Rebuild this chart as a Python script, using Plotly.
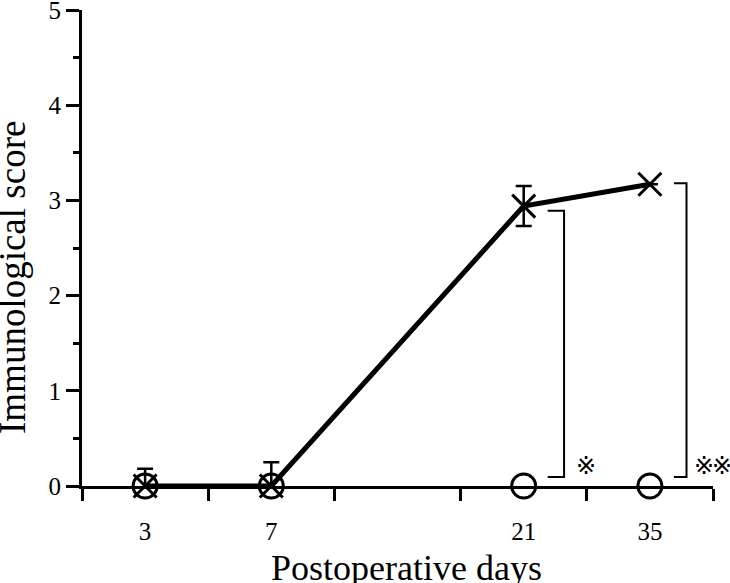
import plotly.graph_objects as go

# ---- data ----
day_labels = ["3", "7", "21", "35"]
day_slots = [0, 1, 3, 4]          # ordinal slot of each day on the axis (slot 2 empty)
score_x_group = [0.0, 0.0, 2.94, 3.17]
err_x_group = [0.18, 0.25, 0.21, 0.0]
score_o_group = [0.0, 0.0, 0.0, 0.0]
y_ticks = [0, 1, 2, 3, 4, 5]

SERIF = "Liberation Serif"
BLACK = "black"
MARK_FONT = "DejaVu Sans, Noto Sans CJK JP"

fig = go.Figure()

fig.add_trace(go.Scatter(
    x=day_slots, y=score_o_group, mode="markers",
    marker=dict(symbol="circle-open", size=24, color=BLACK, line=dict(width=3, color=BLACK)),
    cliponaxis=False, showlegend=False,
))

fig.add_trace(go.Scatter(
    x=day_slots, y=score_x_group, mode="lines+markers",
    line=dict(color=BLACK, width=5),
    marker=dict(symbol="x-thin-open", size=23, color=BLACK, line=dict(width=3, color=BLACK)),
    error_y=dict(type="data", array=err_x_group, visible=True, color=BLACK, thickness=2.5, width=8),
    cliponaxis=False, showlegend=False,
))

# significance brackets
brackets = [
    dict(x0=3.19, x1=3.32, ytop=2.89, ybot=0.095),
    dict(x0=4.19, x1=4.29, ytop=3.18, ybot=0.095),
]
shapes = []
for b in brackets:
    shapes.append(dict(
        type="path", xref="x", yref="y",
        path=f"M {b['x0']},{b['ytop']} L {b['x1']},{b['ytop']} L {b['x1']},{b['ybot']} L {b['x0']},{b['ybot']}",
        line=dict(color=BLACK, width=2),
    ))

mark = "\u203b\ufe0e"
mark_font = dict(family=MARK_FONT, size=24, color=BLACK)
annotations = [
    dict(text=mark, x=0.7987, y=0.21, xref="paper", yref="y", xanchor="center", yanchor="middle",
         showarrow=False, font=mark_font),
    dict(text=mark, x=0.9865, y=0.21, xref="paper", yref="y", xanchor="center", yanchor="middle",
         showarrow=False, font=mark_font),
    dict(text=mark, x=1.0143, y=0.21, xref="paper", yref="y", xanchor="center", yanchor="middle",
         showarrow=False, font=mark_font),
    dict(text="Postoperative days", x=2.075, y=0, xref="x", yref="paper", xanchor="center",
         yanchor="top", yshift=-60, showarrow=False, font=dict(family=SERIF, size=36, color=BLACK)),
    dict(text="Immunological score", x=0, y=2.185, xref="paper", yref="y", xanchor="center",
         yanchor="middle", xshift=-69, textangle=-90, showarrow=False,
         font=dict(family=SERIF, size=37, color=BLACK)),
]

fig.update_layout(
    width=730, height=583,
    margin=dict(l=82, r=17, t=10, b=97, autoexpand=False),
    paper_bgcolor="white", plot_bgcolor="white",
    shapes=shapes, annotations=annotations,
    xaxis=dict(
        range=[-0.5, 4.5], showgrid=False, zeroline=False, automargin=False,
        showline=True, linewidth=3, linecolor=BLACK,
        tickmode="array", tickvals=day_slots, ticktext=day_labels,
        ticks="outside", ticklen=21, tickcolor="rgba(0,0,0,0)", tickwidth=1,
        tickfont=dict(family=SERIF, size=25, color=BLACK),
        minor=dict(tickmode="array", tickvals=[-0.5, 0.5, 1.5, 2.5, 3.5, 4.5],
                   ticks="outside", ticklen=12, tickwidth=2.5, tickcolor=BLACK),
    ),
    yaxis=dict(
        range=[0, 5], showgrid=False, zeroline=False, automargin=False,
        showline=True, linewidth=3, linecolor=BLACK,
        tickmode="array", tickvals=y_ticks, ticklabeloverflow="allow",
        ticks="outside", ticklen=13, tickwidth=2.5, tickcolor=BLACK,
        tickfont=dict(family=SERIF, size=25, color=BLACK),
        minor=dict(dtick=0.5, tick0=0, ticks="outside", ticklen=6, tickwidth=2.5, tickcolor=BLACK),
    ),
)

# remove the browser's default 8px body margin so the figure fills the window exactly
fig.write_html("out.html", config={"displayModeBar": False},
               post_script="document.body.style.margin='0px';")
